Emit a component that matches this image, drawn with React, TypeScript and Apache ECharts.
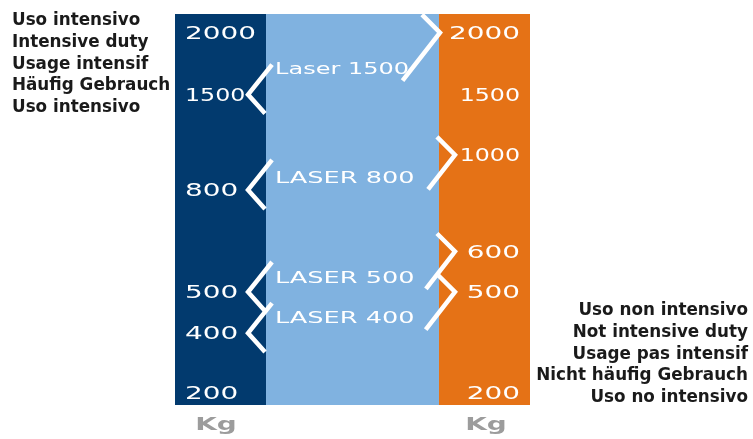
import React, { useEffect, useRef } from "react";
import * as echarts from "echarts";

// Capacity scale (kg) and its vertical slot on the chart (0 = bottom, 20 = top)
const kgValues = [2000, 1500, 1000, 800, 600, 500, 400, 200];
const kgLevels = [19.05, 15.88, 12.79, 11.0, 7.85, 5.78, 3.68, 0.61];

// Tick labels on the left (intensive) and right (non intensive) columns
const leftKg = [2000, 1500, 800, 500, 400, 200];
const rightKg = [2000, 1500, 1000, 600, 500, 200];

// Models: name, capacity intensive (left), capacity non intensive (right)
const modelNames = ["Laser 1500", "LASER 800", "LASER 500", "LASER 400"];
const modelMin = [1500, 800, 500, 400];
const modelMax = [2000, 1000, 600, 500];

// Column spans on the x axis
const columnSpans = [
  [0, 1],
  [1, 2.9],
  [2.9, 3.9],
];

const leftTitle = [
  "Uso intensivo",
  "Intensive duty",
  "Usage intensif",
  "Häufig Gebrauch",
  "Uso intensivo",
];
const rightTitle = [
  "Uso non intensivo",
  "Not intensive duty",
  "Usage pas intensif",
  "Nicht häufig Gebrauch",
  "Uso no intensivo",
];
const unitLabel = "Kg";

const columnColors = ["#023a6e", "#80b2e0", "#e57216"];
const WIDE = 1.55;
const DIGIT_FONT = "normal 18px 'DejaVu Sans'";

const levelOf = (kg: number) => kgLevels[kgValues.indexOf(kg)];
// the original "techno" font has a very narrow "1": shrink the stretch accordingly
const wideScale = (t: string) => {
  const chars = t.split("");
  const w = chars.reduce((s, c) => s + (c === "1" ? 0.4 : 1), 0);
  return (WIDE * w) / chars.length;
};

export default function App() {
  const ref = useRef<HTMLDivElement>(null);

  useEffect(() => {
    if (!ref.current) return;
    const chart = echarts.init(ref.current, null, { renderer: "svg" });

    const tickData = [
      ...leftKg.map((k) => [0, levelOf(k), String(k)]),
      ...rightKg.map((k) => [1, levelOf(k), String(k)]),
    ];
    const modelData = modelNames.map((n, i) => [
      levelOf(modelMin[i]),
      levelOf(modelMax[i]),
      n,
      modelMax[i],
    ]);

    const textBlock = (lines: string[], x: number, y0: number, align: string) =>
      lines.map((t, i) => ({
        type: "text",
        x,
        y: y0 + i * 21.75,
        style: {
          text: t,
          fill: "#1a1a1a",
          font: "bold 16.8px 'DejaVu Sans'",
          textAlign: align,
          textVerticalAlign: "middle",
        },
      }));

    const unitText = (x: number) => ({
      type: "text",
      x,
      y: 424,
      scaleX: WIDE,
      style: {
        text: unitLabel,
        fill: "#9c9c9c",
        font: "bold 18px 'DejaVu Sans'",
        textAlign: "center",
        textVerticalAlign: "middle",
      },
    });

    chart.setOption({
      animation: false,
      grid: { left: 175, right: 223, top: 14, bottom: 34 },
      xAxis: { type: "value", min: 0, max: 3.9, show: false },
      yAxis: { type: "value", min: 0, max: 20, show: false },
      graphic: [
        ...textBlock(leftTitle, 12, 19, "left"),
        ...textBlock(rightTitle, 748, 309, "right"),
        unitText(216),
        unitText(486),
      ],
      series: [
        {
          type: "custom",
          silent: true,
          data: columnSpans,
          renderItem: (params: any, api: any) => {
            const p0 = api.coord([api.value(0), 20]);
            const p1 = api.coord([api.value(1), 0]);
            return {
              type: "rect",
              shape: { x: p0[0], y: p0[1], width: p1[0] - p0[0], height: p1[1] - p0[1] },
              style: { fill: columnColors[params.dataIndex] },
            };
          },
        },
        {
          type: "custom",
          silent: true,
          data: tickData,
          renderItem: (params: any, api: any) => {
            const side = api.value(0);
            const lvl = api.value(1);
            const label = tickData[params.dataIndex][2] as string;
            const p = side === 0 ? api.coord([0, lvl]) : api.coord([3.9, lvl]);
            return {
              type: "text",
              x: side === 0 ? p[0] + 10 : p[0] - 10,
              y: p[1],
              scaleX: wideScale(label),
              style: {
                text: label,
                fill: "#ffffff",
                font: DIGIT_FONT,
                textAlign: side === 0 ? "left" : "right",
                textVerticalAlign: "middle",
              },
            };
          },
        },
        {
          type: "custom",
          silent: true,
          data: modelData,
          renderItem: (params: any, api: any) => {
            const i = params.dataIndex;
            const tl = api.coord([1, api.value(0)]);
            const tr = api.coord([2.9, api.value(1)]);
            const lx = tl[0] - 18;
            const ly = tl[1];
            const isTop = modelMax[i] === kgValues[0];
            const rx = tr[0] + (isTop ? 1 : 16);
            const ry = tr[1];
            const labelY = (ly + ry) / 2 + 5;
            const by = labelY + 12;
            const bdx = (by - ry) * 0.78;
            const lineStyle = {
              stroke: "#ffffff",
              lineWidth: 4.5,
              fill: null,
              lineJoin: "miter",
              miterLimit: 10,
            };
            return {
              type: "group",
              children: [
                {
                  type: "polyline",
                  shape: {
                    points: [
                      [lx + 24, ly - 30],
                      [lx, ly],
                      [lx + 17, ly + 19],
                    ],
                  },
                  style: lineStyle,
                },
                {
                  type: "polyline",
                  shape: {
                    points: [
                      [rx - 18, ry - 18],
                      [rx, ry],
                      [rx - bdx, by],
                    ],
                  },
                  style: lineStyle,
                },
                {
                  type: "text",
                  x: tl[0] + 9,
                  y: labelY,
                  scaleX: wideScale(modelNames[i]),
                  style: {
                    text: modelNames[i],
                    fill: "#ffffff",
                    font: "normal 16.5px 'DejaVu Sans'",
                    textAlign: "left",
                    textVerticalAlign: "middle",
                  },
                },
              ],
            };
          },
        },
      ],
    });

    return () => chart.dispose();
  }, []);

  return (
    <div
      ref={ref}
      style={{ position: "fixed", left: 0, top: 0, width: 753, height: 439 }}
    />
  );
}
